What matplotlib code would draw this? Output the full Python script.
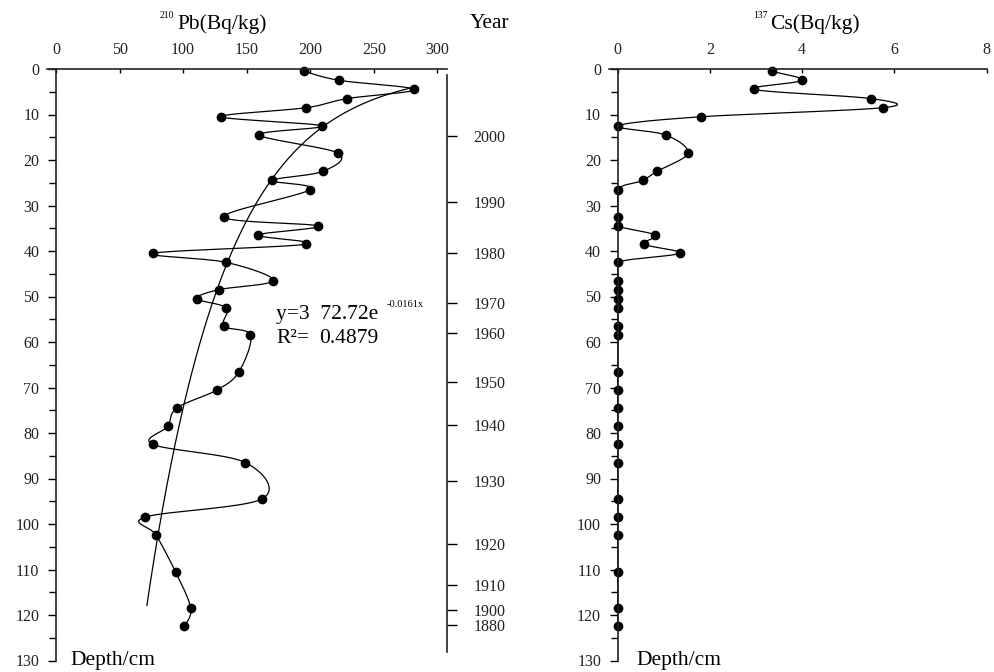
import numpy as np
import matplotlib
matplotlib.use("Agg")
import matplotlib.pyplot as plt

plt.rcParams['font.family'] = ['Liberation Serif', 'DejaVu Serif']

# ---------------- data ----------------
depth = [0.5, 2.5, 4.5, 6.5, 8.5, 10.5, 12.5, 14.5, 18.5, 22.5, 24.5, 26.5,
         32.5, 34.5, 36.5, 38.5, 40.5, 42.5, 46.5, 48.5, 50.5, 52.5, 56.5, 58.5,
         66.5, 70.5, 74.5, 78.5, 82.5, 86.5, 94.5, 98.5, 102.5, 110.5, 118.5, 122.5]
pb210 = [195, 223, 282, 229, 197, 130, 209, 160, 222, 210, 170, 200,
         132, 206, 159, 197, 76, 134, 171, 128, 111, 134, 132, 153,
         144, 127, 95, 88, 76, 149, 162, 70, 79, 94, 106, 101]
cs137 = [3.34, 4.0, 2.96, 5.49, 5.76, 1.80, 0.0, 1.04, 1.52, 0.85, 0.54, 0.0,
         0.0, 0.0, 0.81, 0.57, 1.34, 0.0, 0.0, 0.0, 0.0, 0.0, 0.0, 0.0,
         0.0, 0.0, 0.0, 0.0, 0.0, 0.0, 0.0, 0.0, 0.0, 0.0, 0.0, 0.0]
fit_a, fit_k = 372.72, 0.0161          # depth = a * exp(-k * Pb)
year_labels = [2000, 1990, 1980, 1970, 1960, 1950, 1940, 1930, 1920, 1910, 1900, 1880]
year_depths = [14.7, 29.2, 40.5, 51.4, 58.1, 68.7, 78.2, 90.5, 104.4, 113.3, 118.9, 122.1]
pb_ticks = [0, 50, 100, 150, 200, 250, 300]
cs_ticks = [0, 2, 4, 6, 8]
depth_ticks = list(range(0, 131, 10))

W, H = 994, 672
fig = plt.figure(figsize=(W / 100, H / 100), dpi=100)


def fx(px):
    return px / W


def fy(py):
    return 1 - py / H


TOP, BOT = 69, 660.5
FS_TICK = 11.5
FS_TITLE = 15.5


def smooth_plot(ax, xs, ys, xmin=None, **kw):
    """Excel-style smoothed line (cubic Bezier, Catmull-Rom control points) in display space."""
    pts = ax.transData.transform(np.column_stack([xs, ys]))
    n = len(pts)
    out = []
    for i in range(n - 1):
        p0 = pts[max(i - 1, 0)]
        p1 = pts[i]
        p2 = pts[i + 1]
        p3 = pts[min(i + 2, n - 1)]
        c1 = p1 + (p2 - p0) / 6.0
        c2 = p2 - (p3 - p1) / 6.0
        t = np.linspace(0, 1, 20)[:, None]
        seg = ((1 - t) ** 3) * p1 + 3 * ((1 - t) ** 2) * t * c1 + 3 * (1 - t) * t ** 2 * c2 + t ** 3 * p2
        out.append(seg if i == 0 else seg[1:])
    curve = np.vstack(out)
    data = ax.transData.inverted().transform(curve)
    if xmin is not None:
        data[:, 0] = np.maximum(data[:, 0], xmin)
    ax.plot(data[:, 0], data[:, 1], **kw)


def style_depth_axis(ax):
    ax.set_ylim(130, 0)
    ax.set_yticks(depth_ticks)
    ax.set_yticks(np.arange(5, 130, 10), minor=True)
    ax.tick_params(axis='y', which='major', direction='out', length=6, width=1,
                   pad=6, labelsize=FS_TICK, left=True, right=False)
    ax.tick_params(axis='y', which='minor', direction='out', length=5, width=1,
                   left=True, right=False)
    ax.xaxis.tick_top()
    ax.tick_params(axis='x', which='major', direction='in', length=3, width=1,
                   pad=8, labelsize=FS_TICK, top=True, bottom=False)
    ax.spines['bottom'].set_visible(False)
    ax.spines['right'].set_visible(False)
    ax.spines['left'].set_position(('data', 0))
    for s in ('top', 'left'):
        ax.spines[s].set_linewidth(1.2)
        ax.spines[s].set_color('#222222')
    for lab in ax.get_xticklabels() + ax.get_yticklabels():
        lab.set_color('#222222')


# ---------------- left panel: 210Pb ----------------
ax1 = fig.add_axes([fx(47), fy(BOT), fx(447) - fx(47), fy(TOP) - fy(BOT)])
ax1.set_xlim(-7.1, 307.6)
ax1.set_xticks(pb_ticks)
style_depth_axis(ax1)
ax1.patch.set_alpha(0)

pb_min, pb_max = min(pb210), max(pb210)
pb_fit = np.linspace(pb_min + 1.5, pb_max, 200)
ax1.plot(pb_fit, fit_a * np.exp(-fit_k * pb_fit), color='black', lw=0.9)
smooth_plot(ax1, pb210, depth, color='black', lw=0.9)
ax1.plot(pb210, depth, 'o', color='black', ms=6, clip_on=False)

# year axis
axy = ax1.twinx()
axy.set_ylim(130, 0)
for s in ('top', 'bottom', 'left'):
    axy.spines[s].set_visible(False)
axy.spines['right'].set_bounds(1.3, 128.2)
axy.spines['right'].set_linewidth(1.2)
axy.spines['right'].set_color('#222222')
axy.set_yticks(year_depths)
axy.set_yticklabels([str(y) for y in year_labels])
axy.tick_params(axis='y', direction='out', length=7, width=1, pad=12,
                labelsize=FS_TICK, labelcolor='#222222')

# ---------------- right panel: 137Cs ----------------
ax2 = fig.add_axes([fx(609), fy(BOT), fx(987) - fx(609), fy(TOP) - fy(BOT)])
ax2.set_xlim(-0.19, 8.01)
ax2.set_xticks(cs_ticks)
style_depth_axis(ax2)
smooth_plot(ax2, cs137, depth, xmin=0.0, color='black', lw=0.9)
ax2.plot(cs137, depth, 'o', color='black', ms=6, clip_on=False)

# ---------------- texts ----------------
fig.text(fx(174), fy(18.5), '210', fontsize=7, ha='right', va='baseline')
fig.text(fx(177), fy(28.5), 'Pb(Bq/kg)', fontsize=FS_TITLE, ha='left', va='baseline')
fig.text(fx(768), fy(18.5), '137', fontsize=7, ha='right', va='baseline')
fig.text(fx(770), fy(28.5), 'Cs(Bq/kg)', fontsize=FS_TITLE, ha='left', va='baseline')
fig.text(fx(470), fy(28.5), 'Year', fontsize=FS_TITLE, ha='left', va='baseline')

fig.text(fx(70), fy(665.5), 'Depth/cm', fontsize=FS_TITLE, ha='left', va='baseline')
fig.text(fx(636), fy(665.5), 'Depth/cm', fontsize=FS_TITLE, ha='left', va='baseline')

fig.text(fx(276), fy(319), 'y=3  72.72e', fontsize=FS_TITLE, ha='left', va='baseline')
fig.text(fx(387), fy(307), '-0.0161x', fontsize=7.5, ha='left', va='baseline')
fig.text(fx(276), fy(343), 'R\u00b2=', fontsize=FS_TITLE, ha='left', va='baseline')
fig.text(fx(319), fy(343), '0.4879', fontsize=FS_TITLE, ha='left', va='baseline')

fig.savefig('out.png', dpi=100)
